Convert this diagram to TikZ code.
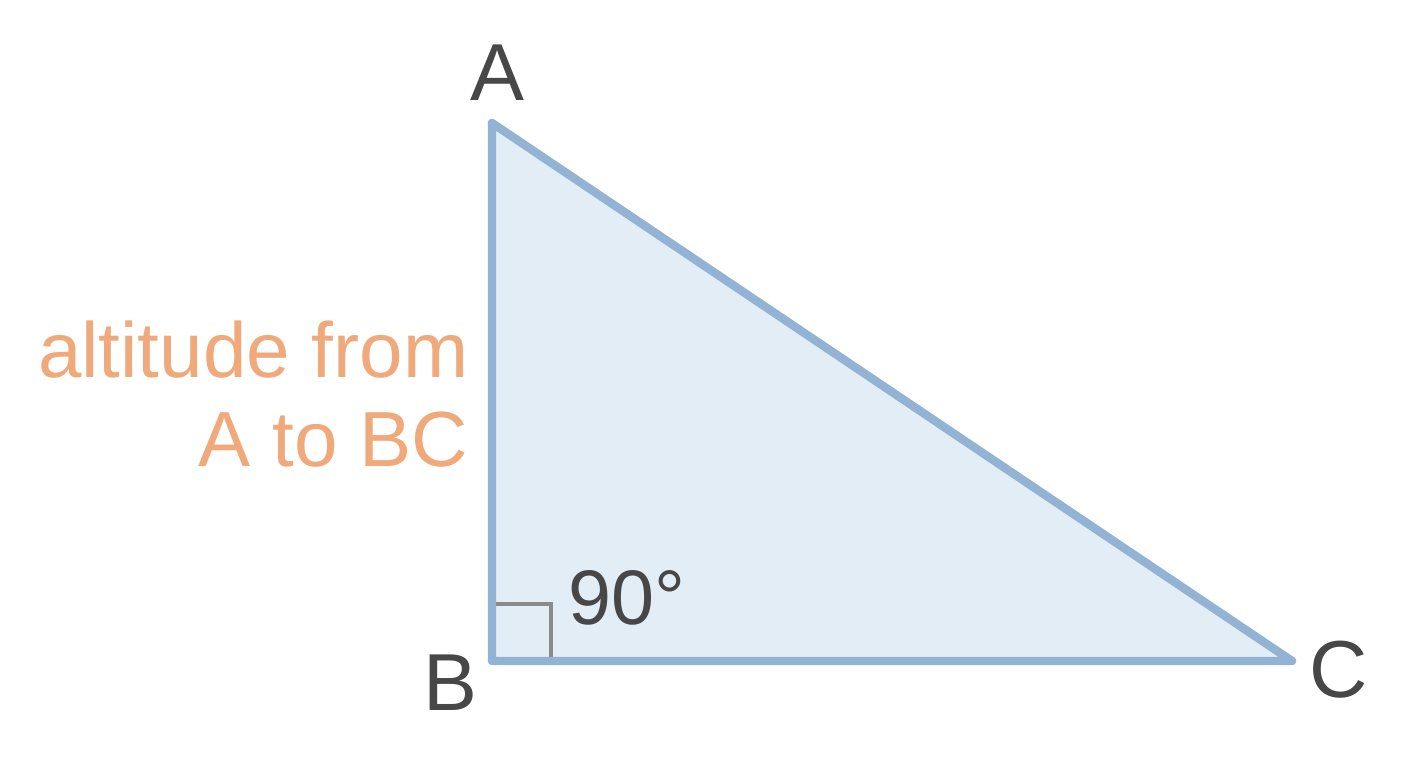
\documentclass[tikz,border=0pt]{standalone}
\usepackage{fontspec}
\setmainfont{Liberation Sans}
\usetikzlibrary{positioning, arrows, arrows.meta}
\usepackage{color}
\definecolor{sideblue}{HTML}{93B3D5}
\definecolor{fillblue}{HTML}{E2EDF6}
\definecolor{markgray}{HTML}{8A8A8A}
\definecolor{labelgray}{HTML}{474747}
\definecolor{altorange}{HTML}{EFA97A}

\begin{document}
\begin{tikzpicture}[>=latex, thick,
    vertex/.style={text=labelgray, font=\fontsize{46}{50}\selectfont, inner sep=0pt, anchor=base},
    alttext/.style={text=altorange, font=\fontsize{44.5}{50}\selectfont, inner sep=0pt, anchor=base east}]
    \useasboundingbox (0, 0) rectangle (28.16, 15.36);

    \coordinate (A) at (9.84, 12.9);
    \coordinate (B) at (9.84, 2.14);
    \coordinate (C) at (25.84, 2.14);

    \fill [fillblue] (A) -- (B) -- (C) -- cycle;
    \draw [markgray, line width=2.3pt] 
        ([yshift=1.14cm]B) -| ([xshift=1.18cm]B)
    ;
    \draw [sideblue, line width=4.8pt, line join=round, line cap=round] 
        (A) -- (B) -- (C) -- cycle
    ;

    \node [vertex] (lblA) at (9.94, 13.34) {A};
    \node [vertex] (lblB) at (9.0, 1.14) {B};
    \node [vertex] (lblC) at (26.78, 1.4) {C};
    \node [vertex, anchor=base west, font=\fontsize{44}{50}\selectfont] (angle) at (11.36, 2.86) {90°};

    \node [alttext] (alt1) at (9.38, 7.8) {altitude from};
    \node [alttext] (alt2) at (9.38, 6.02) {A to BC};
\end{tikzpicture}
\end{document}
